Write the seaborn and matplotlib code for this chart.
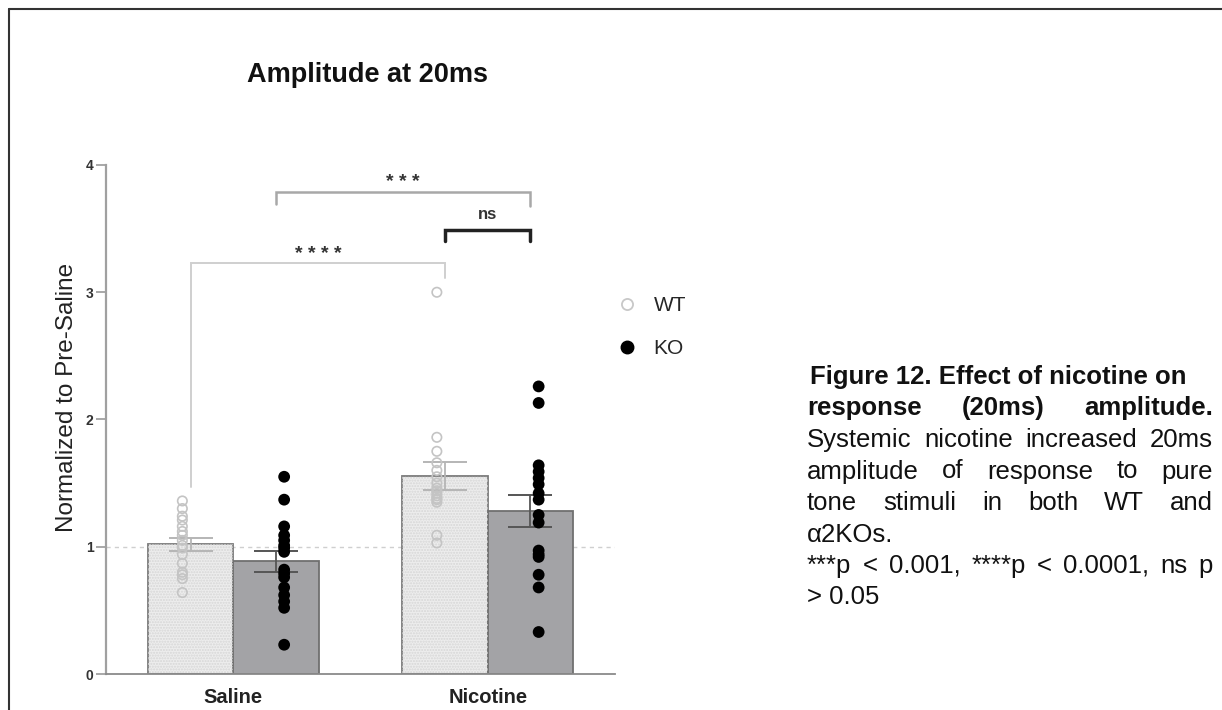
import matplotlib
matplotlib.use("Agg")
import matplotlib.pyplot as plt
import seaborn as sns
import pandas as pd
import numpy as np
from matplotlib.lines import Line2D
from matplotlib.patches import Rectangle
from matplotlib.collections import PathCollection

# ---------------- data ----------------
treatments = ["Saline", "Nicotine"]
genotypes = ["WT", "KO"]
wt_saline = [1.36, 1.30, 1.24, 1.21, 1.16, 1.12, 1.09, 1.05, 1.01, 0.99, 0.94, 0.87, 0.80, 0.78, 0.75, 0.64]
ko_saline = [1.55, 1.37, 1.16, 1.09, 1.05, 1.01, 0.99, 0.96, 0.82, 0.79, 0.76, 0.68, 0.62, 0.57, 0.52, 0.23]
wt_nicotine = [3.00, 1.86, 1.75, 1.66, 1.60, 1.55, 1.50, 1.46, 1.44, 1.42, 1.40, 1.38, 1.37, 1.35, 1.09, 1.03]
ko_nicotine = [2.26, 2.13, 1.64, 1.59, 1.54, 1.49, 1.42, 1.37, 1.25, 1.19, 0.97, 0.94, 0.92, 0.78, 0.68, 0.33]
y_ticks = [0, 1, 2, 3, 4]
title = "Amplitude at 20ms"
y_label = "Normalized to Pre-Saline"

rows = []
for t, g, vals in [("Saline", "WT", wt_saline), ("Saline", "KO", ko_saline),
                   ("Nicotine", "WT", wt_nicotine), ("Nicotine", "KO", ko_nicotine)]:
    for v in vals:
        rows.append({"treatment": t, "genotype": g, "value": v})
df = pd.DataFrame(rows)

sns.set_theme(style="white")
plt.rcParams["font.family"] = ["Liberation Sans", "DejaVu Sans"]

W, H = 1222, 710
fig = plt.figure(figsize=(W / 100, H / 100), dpi=100)
fig.patch.set_facecolor("white")

def fx(px):
    return px / W

def fy(py):
    return 1 - py / H

AX_L, AX_R, AX_T, AX_B = 106, 615, 165, 674
ax = fig.add_axes([fx(AX_L), fy(AX_B), fx(AX_R - AX_L), (AX_B - AX_T) / H])

bar_colors = {"WT": "#ededed", "KO": "#a3a3a7"}
sns.barplot(data=df, x="treatment", y="value", hue="genotype", order=treatments,
            hue_order=genotypes, errorbar=None, width=0.67, palette=bar_colors,
            edgecolor="#6f6f6f", linewidth=1.3, ax=ax, legend=False, zorder=1)

# texture on WT bars
for p in ax.containers[0]:
    ax.add_patch(Rectangle(p.get_xy(), p.get_width(), p.get_height(), fill=False,
                           hatch="......", edgecolor="#d6d6d6", linewidth=0, zorder=1.5))
for p in ax.containers[0]:
    p.set_edgecolor("#7a7a7a")

# error bars (mean +/- SEM)
stats = df.groupby(["treatment", "genotype"])["value"].agg(["mean", "sem"])
err_colors = {"WT": "#b5b5b5", "KO": "#555555"}
for gi, g in enumerate(genotypes):
    for ti, t in enumerate(treatments):
        p = ax.containers[gi][ti]
        xc = p.get_x() + p.get_width() / 2
        m, s = stats.loc[(t, g), "mean"], stats.loc[(t, g), "sem"]
        ax.errorbar([xc], [m], yerr=[s], color=err_colors[g], capsize=16,
                    elinewidth=1.3, capthick=1.4, zorder=2)

# dashed reference line
ax.axhline(1, color="#cfcfcf", lw=1, ls=(0, (3, 3)), zorder=0.5)

# points
n_before = len(ax.collections)
sns.stripplot(data=df, x="treatment", y="value", hue="genotype", order=treatments,
              hue_order=genotypes, dodge=True, jitter=False,
              palette={"WT": "#c4c4c4", "KO": "#000000"}, size=8, ax=ax,
              legend=False, zorder=3, linewidth=0)
for coll in ax.collections[n_before:]:
    if not isinstance(coll, PathCollection):
        continue
    fc = coll.get_facecolor()
    if len(fc) and fc[0][0] > 0.5:
        coll.set_facecolor("none")
        coll.set_edgecolor("#c4c4c4")
        coll.set_linewidth(1.2)
        coll.set_sizes([46])
    else:
        coll.set_sizes([72])

# significance brackets
xs = {(g, t): ax.containers[gi][ti].get_x() + ax.containers[gi][ti].get_width() / 2
      for gi, g in enumerate(genotypes) for ti, t in enumerate(treatments)}

def bracket(x1, x2, y, y1, y2, text, ty, color, tcolor, lw, fs):
    ax.plot([x1, x1, x2, x2], [y1, y, y, y2], color=color, lw=lw, clip_on=False,
            solid_joinstyle="miter", zorder=2)
    ax.text((x1 + x2) / 2, ty, text, ha="center", va="center", color=tcolor,
            fontsize=fs, fontweight="bold", clip_on=False)

bracket(xs[("WT", "Saline")], xs[("WT", "Nicotine")], 3.23, 1.47, 3.11, "* * * *", 3.30,
        "#cfcfcf", "#333333", 1.4, 14)
bracket(xs[("KO", "Saline")], xs[("KO", "Nicotine")], 3.79, 3.69, 3.68, "* * *", 3.86,
        "#a8a8a8", "#333333", 1.8, 14)
bracket(xs[("WT", "Nicotine")], xs[("KO", "Nicotine")], 3.49, 3.40, 3.40, "ns", 3.61,
        "#222222", "#333333", 2.5, 12)

# axes styling
ax.set_xlim(-0.5, 1.5)
ax.set_ylim(0, 4)
ax.set_yticks(y_ticks)
ax.set_yticklabels([str(v) for v in y_ticks], fontsize=10, fontweight="bold", color="#333333")
ax.set_xticks([0, 1])
ax.set_xticklabels(treatments, fontsize=14.5, fontweight="bold", color="#222222")
ax.tick_params(axis="y", length=7, width=1.2, color="#9a9a9a", pad=2, left=True)
ax.tick_params(axis="x", length=0, pad=10)
ax.set_xlabel("")
ax.set_ylabel(y_label, fontsize=17.5, color="#222222")
ax.yaxis.label.set_va("center")
ax.yaxis.set_label_coords((67 - AX_L) / (AX_R - AX_L), (AX_B - 397) / (AX_B - AX_T))
for side in ["top", "right"]:
    ax.spines[side].set_visible(False)
ax.spines["left"].set_color("#a0a0a0")
ax.spines["left"].set_linewidth(1.6)
ax.spines["bottom"].set_color("#8a8a8a")
ax.spines["bottom"].set_linewidth(1.3)
ax.set_facecolor("white")

# title
fig.text(fx(247), fy(82), title, ha="left", va="baseline", fontsize=19.5, fontweight="bold",
         color="#111111")

# legend
handles = [Line2D([], [], marker="o", ls="none", markerfacecolor="none",
                  markeredgecolor="#c8c8c8", markersize=8, markeredgewidth=1.3),
           Line2D([], [], marker="o", ls="none", markerfacecolor="black",
                  markeredgecolor="black", markersize=9)]
fig.legend(handles, genotypes, loc="upper left", bbox_to_anchor=(fx(617), fy(296)),
           frameon=False, fontsize=15, labelspacing=1.15, handletextpad=0.75,
           borderaxespad=0, borderpad=0, handlelength=1.0)

# border
fig.add_artist(Line2D([fx(9), fx(9)], [fy(9), 0], color="#333333", lw=1.5))
fig.add_artist(Line2D([fx(9), 1], [fy(9), fy(9)], color="#333333", lw=1.5))

# caption (justified)
cap_lines = [
    ("Figure 12. Effect of nicotine on", True, False),
    ("response (20ms) amplitude.", True, True),
    ("Systemic nicotine increased 20ms", False, True),
    ("amplitude of response to pure", False, True),
    ("tone stimuli in both WT and", False, True),
    ("\u03b12KOs.", False, False),
    ("***p < 0.001, ****p < 0.0001, ns p", False, True),
    ("> 0.05", False, False),
]
cap_left, cap_right = 807, 1213
cap_top, cap_step = 377, 31.5
cap_fs = 18.5
renderer = fig.canvas.get_renderer()
for i, (line, bold, justify) in enumerate(cap_lines):
    yy = fy(cap_top + i * cap_step)
    weight = "bold" if bold else "normal"
    xl = cap_left + (3 if i == 0 else 0)
    if not justify:
        fig.text(fx(xl), yy, line, ha="left", va="center", fontsize=cap_fs,
                 fontweight=weight, color="#111111")
        continue
    words = line.split(" ")
    arts = [fig.text(0, yy, w, ha="left", va="center", fontsize=cap_fs,
                     fontweight=weight, color="#111111") for w in words]
    widths = [a.get_window_extent(renderer).width for a in arts]
    gap = (cap_right - xl - sum(widths)) / max(len(words) - 1, 1)
    x = xl
    for a, w in zip(arts, widths):
        a.set_x(fx(x))
        x += w + gap

fig.savefig("out.png", dpi=100, facecolor="white")
